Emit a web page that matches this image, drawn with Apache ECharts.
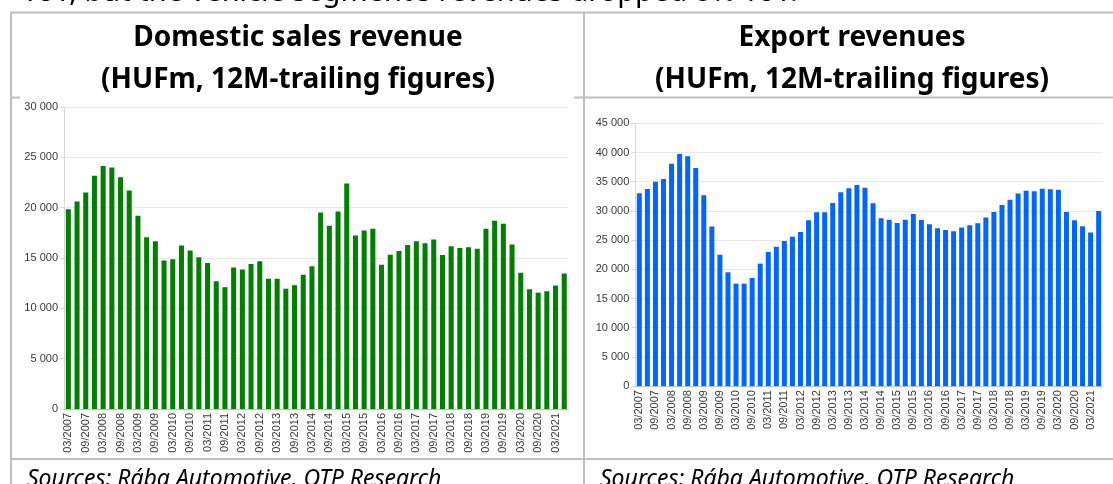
<!DOCTYPE html>
<html>
<head>
<meta charset="utf-8">
<script src="https://cdn.jsdelivr.net/npm/echarts@6/dist/echarts.min.js"></script>
<style>
  html, body { margin: 0; padding: 0; background: #fff; }
  #main { width: 1113px; height: 484px; }
</style>
</head>
<body>
<div id="main"></div>
<script>
// quarters 03/2007 .. 06/2021
var quarters = [
	'03/2007', '06/2007', '09/2007', '12/2007', '03/2008', '06/2008', '09/2008', '12/2008',
	'03/2009', '06/2009', '09/2009', '12/2009', '03/2010', '06/2010', '09/2010', '12/2010',
	'03/2011', '06/2011', '09/2011', '12/2011', '03/2012', '06/2012', '09/2012', '12/2012',
	'03/2013', '06/2013', '09/2013', '12/2013', '03/2014', '06/2014', '09/2014', '12/2014',
	'03/2015', '06/2015', '09/2015', '12/2015', '03/2016', '06/2016', '09/2016', '12/2016',
	'03/2017', '06/2017', '09/2017', '12/2017', '03/2018', '06/2018', '09/2018', '12/2018',
	'03/2019', '06/2019', '09/2019', '12/2019', '03/2020', '06/2020', '09/2020', '12/2020',
	'03/2021', '06/2021'
];

// domestic sales revenue, HUFm
var domestic = [
	19850, 20610, 21500, 23160, 24150, 23990, 23030, 21700,
	19190, 17070, 16670, 14740, 14880, 16230, 15740, 15080,
	14510, 12690, 12100, 14050, 13850, 14410, 14680, 12950,
	12950, 11950, 12300, 13330, 14170, 19530, 18200, 19630,
	22400, 17230, 17730, 17900, 14330, 15330, 15700, 16300,
	16670, 16470, 16830, 15300, 16170, 16000, 16070, 15930,
	17900, 18700, 18400, 16330, 13530, 11900, 11560, 11700,
	12260, 13470
];

// export revenues, HUFm
var exportRev = [
	33010, 33760, 35010, 35470, 38090, 39750, 39350, 37350,
	32670, 27310, 22510, 19490, 17550, 17550, 18520, 20970,
	22970, 23880, 24850, 25590, 26390, 28390, 29760, 29760,
	31360, 33190, 33870, 34440, 33980, 31300, 28730, 28500,
	27930, 28500, 29470, 28450, 27710, 27020, 26740, 26510,
	27140, 27530, 27880, 28850, 29820, 31020, 31930, 32960,
	33470, 33360, 33810, 33700, 33640, 29820, 28390, 27360,
	26280, 29990
];

var domTicks = { min: 0, max: 30000, step: 5000 };
var expTicks = { min: 0, max: 45000, step: 5000 };

var titles = ['Domestic sales revenue', 'Export revenues'];
var subTitle = '(HUFm, 12M-trailing figures)';
var sourceText = 'Sources: Rába Automotive, OTP Research';
var topText = 'YoY, but the vehicle segment\u2019s revenues dropped 8% YoY.';

var lineCol = '#bfbfbf';
var labelCol = '#3a3a3a';

function fmt(v) {
	return String(v).replace(/\B(?=(\d{3})+(?!\d))/g, ' ');
}

function xAxisFor(idx) {
	return {
		type: 'category',
		gridIndex: idx,
		data: quarters,
		axisLine: { lineStyle: { color: lineCol } },
		axisTick: { interval: 1, alignWithLabel: true, length: 4, lineStyle: { color: lineCol } },
		axisLabel: {
			interval: 1,
			rotate: 90,
			margin: 4,
			fontSize: 11,
			fontFamily: 'Liberation Sans',
			color: labelCol
		}
	};
}

function yAxisFor(idx, t) {
	return {
		type: 'value',
		gridIndex: idx,
		min: t.min,
		max: t.max,
		interval: t.step,
		axisLine: { show: true, lineStyle: { color: '#d9d9d9' } },
		axisTick: { show: true, length: 4, lineStyle: { color: '#d9d9d9' } },
		axisLabel: {
			margin: 6,
			fontSize: 11,
			fontFamily: 'Liberation Sans',
			color: labelCol,
			formatter: fmt
		},
		splitLine: { lineStyle: { color: '#e8e8e8' } }
	};
}

function hline(x1, x2, y) {
	return { type: 'line', shape: { x1: x1, y1: y, x2: x2, y2: y }, style: { stroke: lineCol, lineWidth: 2 } };
}
function vline(x, y1, y2) {
	return { type: 'line', shape: { x1: x, y1: y1, x2: x, y2: y2 }, style: { stroke: lineCol, lineWidth: 2 } };
}
function txt(x, y, s, size, weight, style, align) {
	return {
		type: 'text', x: x, y: y,
		style: {
			text: s, fontSize: size, fontWeight: weight, fontStyle: style,
			fontFamily: 'Noto Sans', fill: '#000',
			textAlign: align, textVerticalAlign: 'middle'
		}
	};
}

var option = {
	animation: false,
	backgroundColor: '#fff',
	grid: [
		{ left: 64, top: 107, width: 504.6, height: 302 },
		{ left: 635.3, top: 123.3, width: 467.4, height: 262.8 }
	],
	xAxis: [xAxisFor(0), xAxisFor(1)],
	yAxis: [yAxisFor(0, domTicks), yAxisFor(1, expTicks)],
	series: [{
		name: titles[0],
		type: 'bar',
		xAxisIndex: 0,
		yAxisIndex: 0,
		barCategoryGap: '42%',
		itemStyle: { color: '#008000' },
		data: domestic
	}, {
		name: titles[1],
		type: 'bar',
		xAxisIndex: 1,
		yAxisIndex: 1,
		barCategoryGap: '38%',
		itemStyle: { color: '#0066ff' },
		data: exportRev
	}],
	graphic: [
		// table borders
		hline(10, 1113, 12.5),
		vline(11, 12, 484),
		vline(584, 12, 484),
		hline(10, 20, 97.5),
		hline(574, 1113, 97.5),
		hline(10, 1113, 459),
		// texts
		txt(22, -7, topText, 29, 'normal', 'normal', 'left'),
		txt(298, 38, titles[0], 28, 'bold', 'normal', 'center'),
		txt(298, 80, subTitle, 28, 'bold', 'normal', 'center'),
		txt(852, 38, titles[1], 28, 'bold', 'normal', 'center'),
		txt(852, 80, subTitle, 28, 'bold', 'normal', 'center'),
		txt(27, 479, sourceText, 23, 'normal', 'italic', 'left'),
		txt(600, 479, sourceText, 23, 'normal', 'italic', 'left')
	]
};

var chart = echarts.init(document.getElementById('main'));
chart.setOption(option);
</script>
</body>
</html>
